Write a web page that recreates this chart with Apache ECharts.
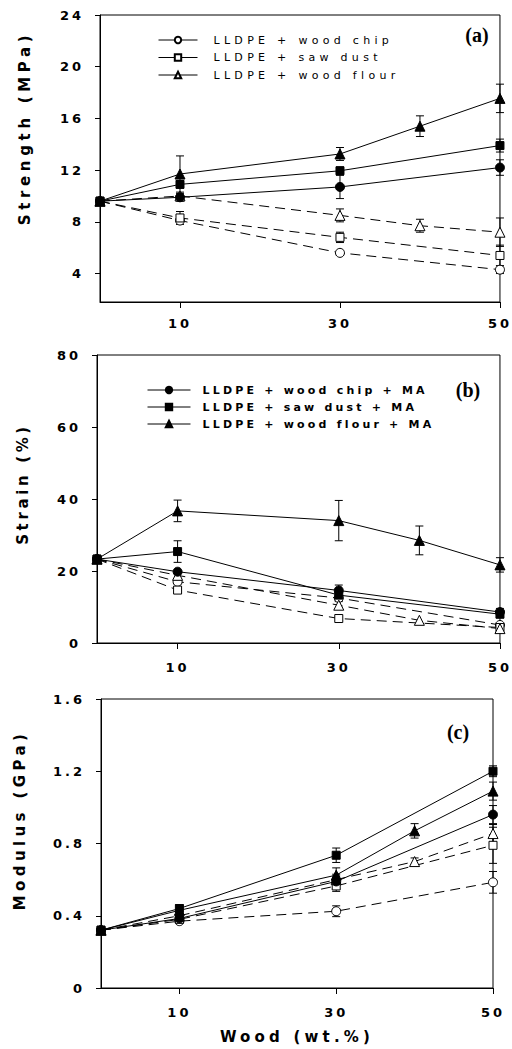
<!DOCTYPE html>
<html><head><meta charset="utf-8">
<script src="https://cdn.jsdelivr.net/npm/echarts@6/dist/echarts.min.js"></script>
<style>html,body{margin:0;padding:0;background:#fff}#c{width:512px;height:1049px}</style>
</head><body><div id="c"></div><script>
// ---------- data ----------
const woodX = [0, 10, 30, 50];          // wt.% for wood chip / saw dust
const woodXFlour = [0, 10, 30, 40, 50]; // wt.% for wood flour
const xTicks = [10, 30, 50];
const strengthTicks = [4, 8, 12, 16, 20, 24];
const strainTicks = [0, 20, 40, 60, 80];
const modulusTicks = [0, 0.4, 0.8, 1.2, 1.6];

const seriesNames = ['LLDPE + wood chip', 'LLDPE + saw dust', 'LLDPE + wood flour',
  'LLDPE + wood chip + MA', 'LLDPE + saw dust + MA', 'LLDPE + wood flour + MA'];

// (a) Strength (MPa)
const strengthChip = [9.6, 8.1, 5.6, 4.3];
const strengthSaw = [9.6, 8.3, 6.8, 5.4];
const strengthFlour = [9.6, 10.0, 8.5, 7.7, 7.2];
const strengthChipMA = [9.6, 9.9, 10.7, 12.2];
const strengthSawMA = [9.6, 10.9, 11.95, 13.9];
const strengthFlourMA = [9.6, 11.7, 13.25, 15.4, 17.55];
const strengthChipErr = [0, 0, 0.2, 0.3];
const strengthSawErr = [0, 0.5, 0.4, 0.8];
const strengthFlourErr = [0, 0, 0.5, 0.5, 1.1];
const strengthChipMAErr = [0, 0.3, 0.9, 0.6];
const strengthSawMAErr = [0, 0.3, 0.3, 0.5];
const strengthFlourMAErr = [0, 1.4, 0.5, 0.8, 1.1];

// (b) Strain (%)
const strainChip = [23.3, 17.0, 12.5, 5.0];
const strainSaw = [23.3, 14.7, 6.8, 4.3];
const strainFlour = [23.3, 18.8, 10.5, 6.3, 4.0];
const strainChipMA = [23.3, 19.8, 14.6, 8.6];
const strainSawMA = [23.3, 25.4, 13.3, 8.0];
const strainFlourMA = [23.3, 36.7, 34.0, 28.5, 21.7];
const strainChipErr = [0, 0, 0, 0];
const strainSawErr = [0, 0.8, 0, 0];
const strainFlourErr = [0, 1.0, 1.0, 0, 0.8];
const strainChipMAErr = [0, 0, 1.5, 1.0];
const strainSawMAErr = [0, 3.0, 1.5, 1.0];
const strainFlourMAErr = [0, 3.0, 5.6, 4.0, 2.0];

// (c) Modulus (GPa)
const modulusChip = [0.32, 0.37, 0.425, 0.585];
const modulusSaw = [0.32, 0.38, 0.565, 0.79];
const modulusFlour = [0.32, 0.40, 0.60, 0.70, 0.855];
const modulusChipMA = [0.32, 0.385, 0.59, 0.96];
const modulusSawMA = [0.32, 0.44, 0.735, 1.20];
const modulusFlourMA = [0.32, 0.43, 0.625, 0.87, 1.09];
const modulusChipErr = [0, 0.01, 0.03, 0.06];
const modulusSawErr = [0, 0, 0.03, 0.1];
const modulusFlourErr = [0, 0, 0.02, 0.02, 0.05];
const modulusChipMAErr = [0, 0.02, 0.04, 0.05];
const modulusSawMAErr = [0, 0.02, 0.04, 0.03];
const modulusFlourMAErr = [0, 0.03, 0.04, 0.04, 0.05];

// ---------- build ----------
const panels = [
  { vals: [strengthChip, strengthSaw, strengthFlour, strengthChipMA, strengthSawMA, strengthFlourMA],
    errs: [strengthChipErr, strengthSawErr, strengthFlourErr, strengthChipMAErr, strengthSawMAErr, strengthFlourMAErr] },
  { vals: [strainChip, strainSaw, strainFlour, strainChipMA, strainSawMA, strainFlourMA],
    errs: [strainChipErr, strainSawErr, strainFlourErr, strainChipMAErr, strainSawMAErr, strainFlourMAErr] },
  { vals: [modulusChip, modulusSaw, modulusFlour, modulusChipMA, modulusSawMA, modulusFlourMA],
    errs: [modulusChipErr, modulusSawErr, modulusFlourErr, modulusChipMAErr, modulusSawMAErr, modulusFlourMAErr] }
];
const symbols = ['circle', 'rect', 'triangle', 'circle', 'rect', 'triangle'];
const sizes = [9, 8, 10, 9, 8, 10];

const series = [];
panels.forEach((p, pi) => {
  p.vals.forEach((vals, si) => {
    const xs = (si % 3 === 2) ? woodXFlour : woodX;
    const open = si < 3;
    series.push({
      type: 'custom', xAxisIndex: pi, yAxisIndex: pi, silent: true, z: 1,
      data: xs.map((x, i) => [x, vals[i], p.errs[si][i]]).filter(d => d[2] > 0),
      renderItem: (params, api) => {
        const x = api.value(0), y = api.value(1), e = api.value(2);
        const t = api.coord([x, y + e]), b = api.coord([x, y - e]);
        const w = 4, st = { stroke: '#000', lineWidth: 1 };
        return { type: 'group', children: [
          { type: 'line', shape: { x1: t[0], y1: t[1], x2: b[0], y2: b[1] }, style: st },
          { type: 'line', shape: { x1: t[0] - w, y1: t[1], x2: t[0] + w, y2: t[1] }, style: st },
          { type: 'line', shape: { x1: b[0] - w, y1: b[1], x2: b[0] + w, y2: b[1] }, style: st }
        ]};
      }
    });
    series.push({
      name: seriesNames[si], type: 'line', xAxisIndex: pi, yAxisIndex: pi, z: 3,
      data: xs.map((x, i) => [x, vals[i]]),
      symbol: symbols[si], symbolSize: sizes[si], showAllSymbol: true,
      lineStyle: { color: '#000', width: 1, type: open ? [10, 6] : 'solid' },
      itemStyle: { color: open ? '#fff' : '#000', borderColor: '#000', borderWidth: 1 },
      emphasis: { disabled: true }, animation: false
    });
  });
});

const grids = [
  { left: 100, top: 15, width: 405, height: 287 },
  { left: 97, top: 355, width: 403, height: 288 },
  { left: 101, top: 699, width: 392, height: 289 }
];
const yRanges = [[1.8, 24, strengthTicks], [0, 80, strainTicks], [0, 1.6, modulusTicks]];
const labelFont = { color: '#000', fontFamily: 'DejaVu Sans', fontWeight: 'bold', fontSize: 13 };

const option = {
  backgroundColor: '#fff',
  animation: false,
  grid: grids.map(g => Object.assign({ show: true, borderColor: '#000', borderWidth: 1, backgroundColor: 'transparent' }, g)),
  xAxis: grids.map((g, i) => ({
    gridIndex: i, type: 'value', min: 0, max: 50,
    axisLine: { show: true, onZero: false, lineStyle: { color: '#000', width: 1 } },
    axisTick: { show: true, customValues: xTicks, length: 6, lineStyle: { color: '#000' } },
    axisLabel: Object.assign({ customValues: xTicks, margin: i === 0 ? 15 : 18 }, labelFont),
    splitLine: { show: false }
  })),
  yAxis: yRanges.map((r, i) => ({
    gridIndex: i, type: 'value', min: r[0], max: r[1],
    axisLine: { show: true, onZero: false, lineStyle: { color: '#000', width: 1 } },
    axisTick: { show: true, customValues: r[2], length: 5, lineStyle: { color: '#000' } },
    axisLabel: Object.assign({ customValues: r[2], margin: 16,
      formatter: v => (i === 2 && v !== 0) ? v.toFixed(1) : String(v) }, labelFont),
    splitLine: { show: false }
  })),
  legend: [
    { data: seriesNames.slice(0, 3), orient: 'vertical', left: 153, top: 28.5,
      itemWidth: 39, itemHeight: 8, itemGap: 4.5, selectedMode: false,
      lineStyle: { type: 'solid', width: 1, color: '#000' },
      textStyle: { fontFamily: 'DejaVu Sans', fontSize: 11, color: '#000', lineHeight: 13, padding: [0, 0, 0, 11] } },
    { data: seriesNames.slice(3, 6), orient: 'vertical', left: 142, top: 378.5,
      itemWidth: 43, itemHeight: 8, itemGap: 4, selectedMode: false,
      lineStyle: { type: 'solid', width: 1, color: '#000' },
      textStyle: { fontFamily: 'DejaVu Sans', fontWeight: 'bold', fontSize: 11, color: '#000', lineHeight: 13, padding: [0, 0, 0, 7] } }
  ],
  graphic: [
    { type: 'text', x: 25, y: 128, rotation: Math.PI / 2,
      style: { text: 'Strength (MPa)', font: 'bold 15px "DejaVu Sans"', fill: '#000', textAlign: 'center', textVerticalAlign: 'middle' } },
    { type: 'text', x: 23, y: 484, rotation: Math.PI / 2,
      style: { text: 'Strain (%)', font: 'bold 15px "DejaVu Sans"', fill: '#000', textAlign: 'center', textVerticalAlign: 'middle' } },
    { type: 'text', x: 20, y: 820, rotation: Math.PI / 2,
      style: { text: 'Modulus (GPa)', font: 'bold 15px "DejaVu Sans"', fill: '#000', textAlign: 'center', textVerticalAlign: 'middle' } },
    { type: 'text', x: 297, y: 1037,
      style: { text: 'Wood (wt.%)', font: 'bold 15px "DejaVu Sans"', fill: '#000', textAlign: 'center', textVerticalAlign: 'middle' } },
    { type: 'text', x: 477, y: 35,
      style: { text: '(a)', font: 'bold 20px "Liberation Serif"', fill: '#000', textAlign: 'center', textVerticalAlign: 'middle' } },
    { type: 'text', x: 468, y: 390,
      style: { text: '(b)', font: 'bold 20px "Liberation Serif"', fill: '#000', textAlign: 'center', textVerticalAlign: 'middle' } },
    { type: 'text', x: 458, y: 732,
      style: { text: '(c)', font: 'bold 20px "Liberation Serif"', fill: '#000', textAlign: 'center', textVerticalAlign: 'middle' } }
  ],
  series: series
};

const chart = echarts.init(document.getElementById('c'), null, { renderer: 'svg', width: 512, height: 1049 });
chart.setOption(option);

// letter spacing as in the scanned figure
const titleWidths = { 'Strength (MPa)': 190, 'Strain (%)': 118, 'Modulus (GPa)': 176, 'Wood (wt.%)': 150 };
function spaceText() {
  document.querySelectorAll('#c svg text').forEach(t => {
    if (t.dataset.sp) return;
    const s = t.textContent;
    let ls = 0;
    if (titleWidths[s]) {
      const len = t.getComputedTextLength();
      ls = (titleWidths[s] - len) / (s.length - 1);
    } else if (/^LLDPE/.test(s)) {
      ls = /MA$/.test(s) ? 3.2 : 4.3;
    } else if (/^[0-9.]+$/.test(s)) {
      ls = 3;
    }
    if (ls > 0) { t.style.letterSpacing = ls.toFixed(2) + 'px'; }
    t.dataset.sp = '1';
  });
}
try { chart.getZr().refreshImmediately(); } catch (e) {}
spaceText();
chart.on('finished', spaceText);
setTimeout(spaceText, 30);
setTimeout(spaceText, 200);
</script></body></html>
